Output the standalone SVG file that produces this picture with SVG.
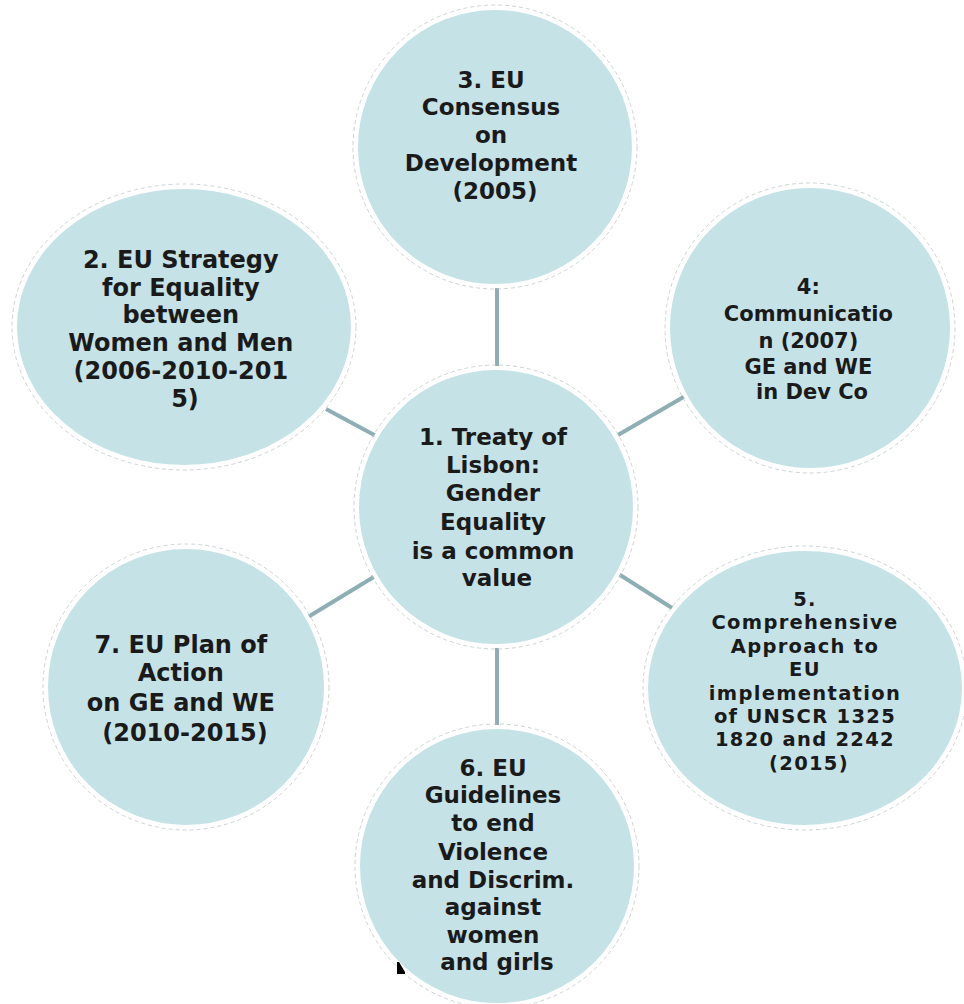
<svg xmlns="http://www.w3.org/2000/svg" width="964" height="1004" viewBox="0 0 964 1004">
  <style>
    .bub { fill: #C5E3E7; stroke: #FFFFFF; stroke-width: 4; }
    .rim { fill: none; stroke: #BFC8CA; stroke-width: 0.8; stroke-dasharray: 4 3; }
    .lbl { font-family: "DejaVu Sans", "Verdana", sans-serif; font-weight: bold; fill: #1A1A1A; text-anchor: middle; }
    .conn { stroke: #8DAFB3; stroke-width: 4; stroke-linecap: butt; }
  </style>
  <rect width="964" height="1004" fill="#FFFFFF"/>
  <g id="connectors">
    <line class="conn" x1="497" y1="288" x2="497" y2="368"/>
    <line class="conn" x1="497" y1="646" x2="497" y2="726"/>
    <line class="conn" x1="326" y1="409" x2="378" y2="437"/>
    <line class="conn" x1="618" y1="435" x2="687" y2="395"/>
    <line class="conn" x1="308" y1="617" x2="377" y2="575"/>
    <line class="conn" x1="617" y1="573" x2="672" y2="608"/>
  </g>
  <g id="node1">
    <circle class="rim" cx="496" cy="507" r="142"/>
    <circle class="bub" cx="496" cy="507" r="139"/>
    <text class="lbl" font-size="23" x="497">
      <tspan x="497" y="445">1. Treaty of</tspan>
      <tspan x="497" y="473">Lisbon:</tspan>
      <tspan x="497" y="501">Gender</tspan>
      <tspan x="497" y="530">Equality</tspan>
      <tspan x="497" y="559">is a common</tspan>
      <tspan x="497" y="586">value</tspan>
    </text>
  </g>
  <g id="node2">
    <ellipse class="rim" cx="184" cy="327" rx="172" ry="143"/>
    <ellipse class="bub" cx="184" cy="327" rx="169" ry="140"/>
    <text class="lbl" font-size="24">
      <tspan x="185" y="268">2. EU Strategy</tspan>
      <tspan x="185" y="296">for Equality</tspan>
      <tspan x="185" y="323">between</tspan>
      <tspan x="185" y="351">Women and Men</tspan>
      <tspan x="185" y="379">(2006-2010-201</tspan>
      <tspan x="185" y="407">5)</tspan>
    </text>
  </g>
  <g id="node3">
    <circle class="rim" cx="495" cy="147" r="142"/>
    <circle class="bub" cx="495" cy="147" r="139"/>
    <text class="lbl" font-size="23">
      <tspan x="495" y="88">3. EU</tspan>
      <tspan x="495" y="115">Consensus</tspan>
      <tspan x="495" y="143">on</tspan>
      <tspan x="495" y="171">Development</tspan>
      <tspan x="495" y="199">(2005)</tspan>
    </text>
  </g>
  <g id="node4">
    <circle class="rim" cx="810" cy="328" r="145"/>
    <circle class="bub" cx="810" cy="328" r="142"/>
    <text class="lbl" font-size="21">
      <tspan x="812" y="294">4:</tspan>
      <tspan x="812" y="321">Communicatio</tspan>
      <tspan x="812" y="348">n (2007)</tspan>
      <tspan x="812" y="374">GE and WE</tspan>
      <tspan x="812" y="399">in Dev Co</tspan>
    </text>
  </g>
  <g id="node5">
    <ellipse class="rim" cx="805" cy="688" rx="162" ry="142"/>
    <ellipse class="bub" cx="805" cy="688" rx="159" ry="139"/>
    <text class="lbl" font-size="19.5" letter-spacing="1.3">
      <tspan x="809" y="606">5.</tspan>
      <tspan x="809" y="629.4">Comprehensive</tspan>
      <tspan x="809" y="652.8">Approach to</tspan>
      <tspan x="809" y="676.2">EU</tspan>
      <tspan x="809" y="699.6">implementation</tspan>
      <tspan x="809" y="723">of UNSCR 1325</tspan>
      <tspan x="809" y="746.4">1820 and 2242</tspan>
      <tspan x="809" y="769.8">(2015)</tspan>
    </text>
  </g>
  <g id="node6">
    <circle class="rim" cx="497" cy="866" r="142"/>
    <circle class="bub" cx="497" cy="866" r="139"/>
    <text class="lbl" font-size="23">
      <tspan x="497" y="776">6. EU</tspan>
      <tspan x="497" y="803">Guidelines</tspan>
      <tspan x="497" y="831">to end</tspan>
      <tspan x="497" y="860">Violence</tspan>
      <tspan x="497" y="888">and Discrim.</tspan>
      <tspan x="497" y="915">against</tspan>
      <tspan x="497" y="943">women</tspan>
      <tspan x="497" y="970">and girls</tspan>
    </text>
  </g>
  <g id="node7">
    <circle class="rim" cx="186" cy="687" r="143"/>
    <circle class="bub" cx="186" cy="687" r="140"/>
    <text class="lbl" font-size="24">
      <tspan x="185" y="653">7. EU Plan of</tspan>
      <tspan x="185" y="681">Action</tspan>
      <tspan x="185" y="711">on GE and WE</tspan>
      <tspan x="185" y="741">(2010-2015)</tspan>
    </text>
  </g>
  <polygon points="397,962 399,962 405,972 405,974 397,974" fill="#000000"/>
</svg>
